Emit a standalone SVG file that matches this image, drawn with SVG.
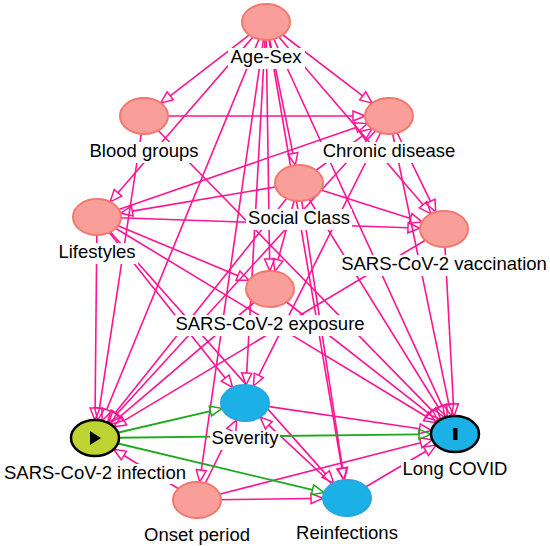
<svg xmlns="http://www.w3.org/2000/svg" width="550" height="546" viewBox="0 0 550 546">
<style>
.e{fill:none;stroke:#ff1493;stroke-width:1.6;marker-end:url(#ap)}
.g{fill:none;stroke:#1ea81e;stroke-width:1.8;marker-end:url(#ag)}
.pk{fill:#fa9e9a;stroke:#f3796f;stroke-width:2}
.bl{fill:#1bb0e6;stroke:#2aa6dc;stroke-width:2}
.lb{fill:#fff}
text{font-family:"Liberation Sans",Arial,sans-serif;font-size:18.5px;fill:#000;text-anchor:middle}
</style>
<defs>
<marker id="ap" markerWidth="14" markerHeight="12" refX="0" refY="6" orient="auto" markerUnits="userSpaceOnUse" overflow="visible"><path d="M0,1 L12,6 L0,11 Z" fill="none" stroke="#ff1493" stroke-width="1.5"/></marker>
<marker id="ag" markerWidth="14" markerHeight="12" refX="0" refY="6" orient="auto" markerUnits="userSpaceOnUse" overflow="visible"><path d="M0,1 L12,6 L0,11 Z" fill="none" stroke="#1ea81e" stroke-width="1.5"/></marker>
</defs>
<rect width="550" height="546" fill="#fff"/>
<g id="edges">
<path class="e" d="M266,22 L170.2,95.8"/>
<path class="e" d="M266,22 L362.7,95.9"/>
<path class="e" d="M266,22 L292.9,153.4"/>
<path class="e" d="M266,22 L118,192.8"/>
<path class="e" d="M266,22 L423.1,204.7"/>
<path class="e" d="M266,22 L269.6,259"/>
<path class="e" d="M266,22 L106.6,409.7"/>
<path class="e" d="M266,22 L246.7,373.1"/>
<path class="e" d="M266,22 L201.3,470.2"/>
<path class="e" d="M266,22 L341.9,468.3"/>
<path class="e" d="M266,22 L442.2,406.1"/>
<path class="e" d="M144,116 L353,116"/>
<path class="e" d="M144,116 L99.5,408.2"/>
<path class="e" d="M144,116 L432.4,410.9"/>
<path class="e" d="M299,183 L132.3,211.1"/>
<path class="e" d="M299,183 L362.4,135.8"/>
<path class="e" d="M299,183 L410.5,218.4"/>
<path class="e" d="M299,183 L278,259.8"/>
<path class="e" d="M299,183 L114.9,413.2"/>
<path class="e" d="M299,183 L342.5,468.2"/>
<path class="e" d="M299,183 L438.5,407.5"/>
<path class="e" d="M97,217 L355.9,127.5"/>
<path class="e" d="M97,217 L408,227.8"/>
<path class="e" d="M97,217 L238,275.7"/>
<path class="e" d="M97,217 L95.1,408"/>
<path class="e" d="M97,217 L225.2,378.1"/>
<path class="e" d="M97,217 L325.7,474.1"/>
<path class="e" d="M97,217 L426.1,416.5"/>
<path class="e" d="M389,116 L430.5,201.3"/>
<path class="e" d="M389,116 L116.6,414.3"/>
<path class="e" d="M389,116 L258.8,375.4"/>
<path class="e" d="M389,116 L448.9,404.4"/>
<path class="e" d="M444,229 L124.1,420.6"/>
<path class="e" d="M444,229 L453.4,404"/>
<path class="e" d="M270,289 L120,416.7"/>
<path class="e" d="M270,289 L429,413.6"/>
<path class="e" d="M197,500 L123.9,455.5"/>
<path class="e" d="M197,500 L231.3,430.6"/>
<path class="e" d="M197,500 L311,498.5"/>
<path class="e" d="M197,500 L420.7,442.8"/>
<path class="e" d="M347,498 L268.8,425.2"/>
<path class="e" d="M347,498 L425.9,451.2"/>
<path class="e" d="M245,403 L419.6,428.8"/>
<path class="g" d="M95,438 L210.4,411.1"/>
<path class="g" d="M95,438 L419,434.4"/>
<path class="g" d="M95,438 L312.5,489.8"/>
</g>
<g id="age-sex"><ellipse class="pk" cx="266" cy="22" rx="24" ry="18"/><rect class="lb" x="228" y="48" width="77" height="21"/><text x="266" y="63">Age-Sex</text></g>
<g id="blood-groups"><ellipse class="pk" cx="144" cy="116" rx="24" ry="18"/><rect class="lb" x="86" y="142" width="116" height="21"/><text x="144" y="157">Blood groups</text></g>
<g id="chronic-disease"><ellipse class="pk" cx="389" cy="116" rx="24" ry="18"/><rect class="lb" x="320" y="142" width="139" height="21"/><text x="389" y="157">Chronic disease</text></g>
<g id="social-class"><ellipse class="pk" cx="299" cy="183" rx="24" ry="18"/><rect class="lb" x="246" y="209" width="106" height="21"/><text x="299" y="224">Social Class</text></g>
<g id="lifestyles"><ellipse class="pk" cx="97" cy="217" rx="24" ry="18"/><rect class="lb" x="57" y="243" width="81" height="21"/><text x="97" y="258">Lifestyles</text></g>
<g id="vaccination"><ellipse class="pk" cx="444" cy="229" rx="24" ry="18"/><rect class="lb" x="338" y="255" width="212" height="21"/><text x="444" y="270">SARS-CoV-2 vaccination</text></g>
<g id="exposure"><ellipse class="pk" cx="270" cy="289" rx="24" ry="18"/><rect class="lb" x="172" y="315" width="196" height="21"/><text x="270" y="330">SARS-CoV-2 exposure</text></g>
<g id="severity"><ellipse class="bl" cx="245" cy="403" rx="24" ry="18"/><rect class="lb" x="210" y="431" width="70" height="19"/><text x="245" y="444">Severity</text></g>
<g id="infection"><ellipse cx="95" cy="438" rx="24" ry="18" fill="#bed432" stroke="#000" stroke-width="2.5"/><path d="M90,431 L101,438 L90,445 Z" fill="#000"/><rect class="lb" x="2" y="464" width="186" height="20"/><text x="95" y="479">SARS-CoV-2 infection</text></g>
<g id="onset-period"><ellipse class="pk" cx="197" cy="500" rx="24" ry="18"/><rect class="lb" x="142" y="526" width="110" height="20"/><text x="197" y="541">Onset period</text></g>
<g id="long-covid"><ellipse cx="455" cy="434" rx="24" ry="18" fill="#1bb0e6" stroke="#000" stroke-width="2.5"/><rect x="453" y="428" width="4.5" height="12" fill="#000"/><rect class="lb" x="401" y="460" width="109" height="20"/><text x="455" y="475">Long COVID</text></g>
<g id="reinfections"><ellipse class="bl" cx="347" cy="498" rx="24" ry="18"/><rect class="lb" x="294" y="524" width="106" height="21"/><text x="347" y="539">Reinfections</text></g>
</svg>
